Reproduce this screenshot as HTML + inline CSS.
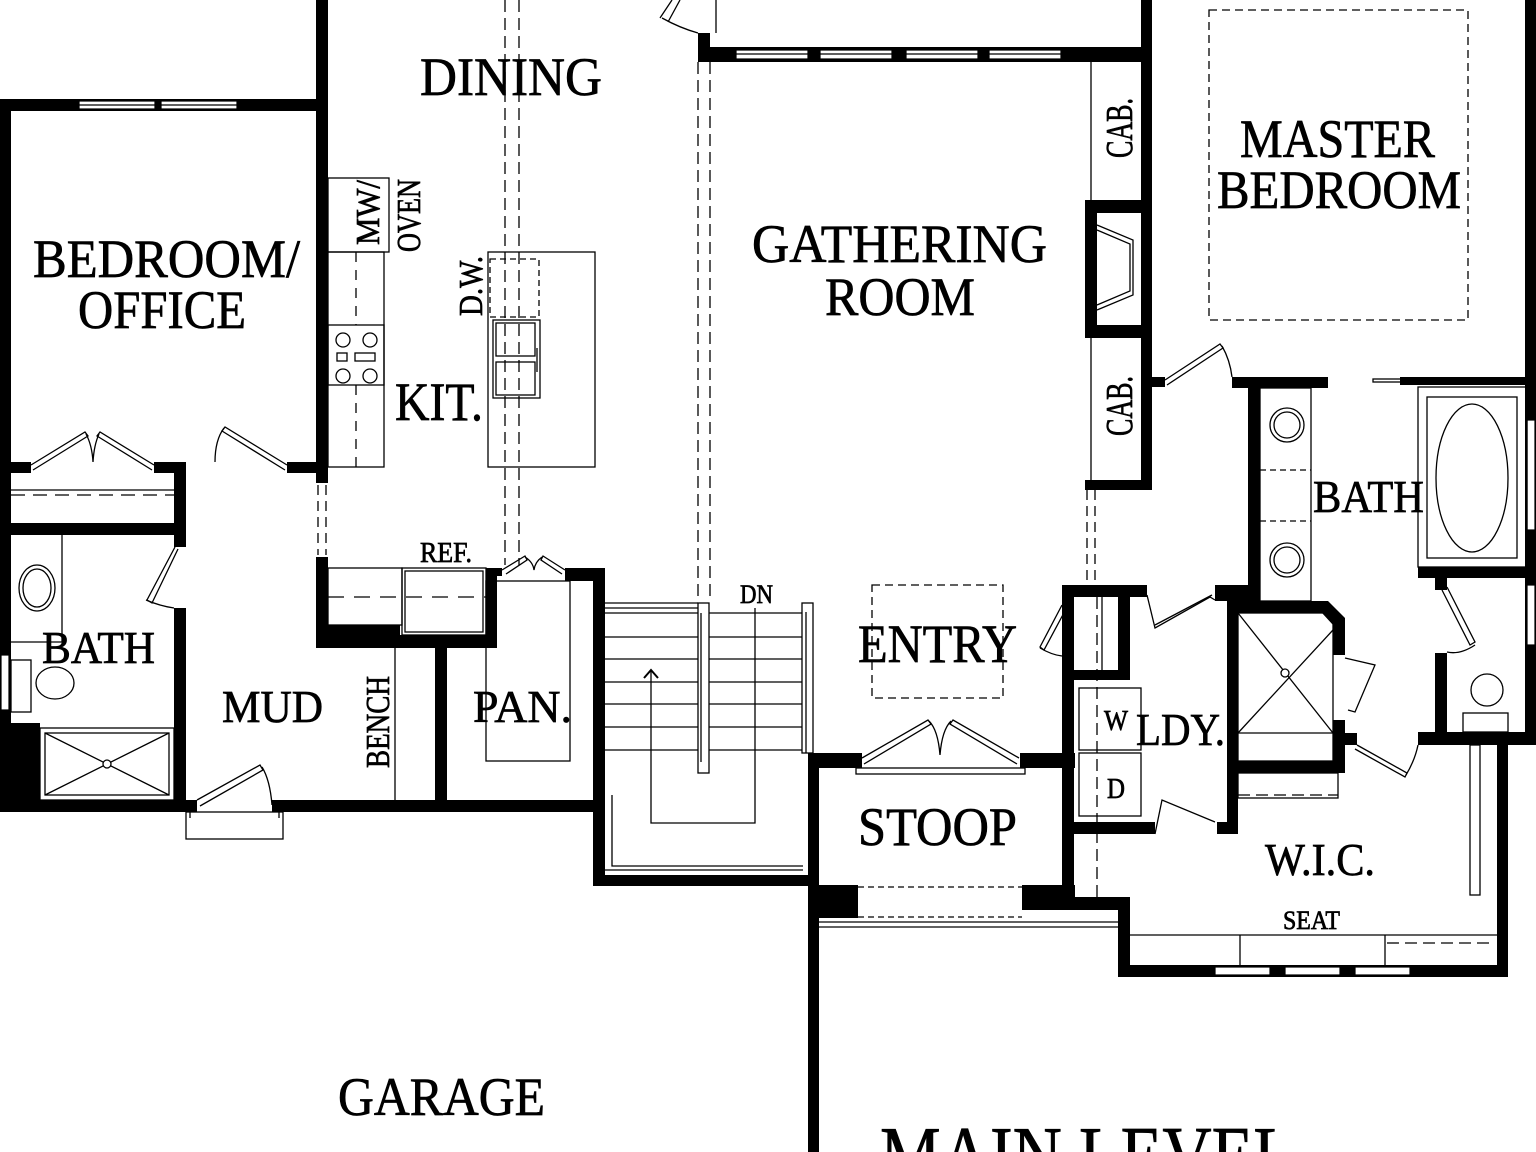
<!DOCTYPE html>
<html><head><meta charset="utf-8"><style>
html,body{margin:0;padding:0;background:#fff;}
svg{display:block;}
text{font-family:"Liberation Serif",serif;fill:#000;stroke:#000;stroke-width:0.7;}
</style></head><body>
<svg width="1536" height="1152" viewBox="0 0 1536 1152" xmlns="http://www.w3.org/2000/svg">
<rect width="1536" height="1152" fill="#fff"/>
<g fill="#000">
<rect x="0" y="99" width="328" height="12"/>
<rect x="0" y="99" width="11" height="700"/>
<rect x="316" y="0" width="12" height="483"/>
<rect x="0" y="462" width="31" height="11"/>
<rect x="154" y="462" width="32" height="11"/>
<rect x="287" y="462" width="41" height="11"/>
<rect x="174" y="462" width="12" height="85"/>
<rect x="0" y="523" width="186" height="12"/>
<rect x="174" y="608" width="12" height="200"/>
<rect x="0" y="723" width="40" height="80"/>
<rect x="0" y="800" width="197" height="12"/>
<rect x="272" y="800" width="333" height="12"/>
<rect x="435" y="648" width="12" height="155"/>
<rect x="316" y="557" width="12" height="91"/>
<rect x="316" y="625" width="84" height="23"/>
<rect x="316" y="635" width="180" height="13"/>
<rect x="486" y="568" width="11" height="80"/>
<rect x="486" y="568" width="16" height="8"/>
<rect x="565" y="568" width="40" height="13"/>
<rect x="593" y="568" width="12" height="317"/>
<rect x="593" y="875" width="226" height="11"/>
<rect x="808" y="753" width="11" height="399"/>
<rect x="808" y="753" width="54" height="15"/>
<rect x="1020" y="753" width="55" height="15"/>
<rect x="1062" y="587" width="12" height="323"/>
<rect x="808" y="885" width="50" height="33"/>
<rect x="1022" y="885" width="53" height="25"/>
<rect x="698" y="47" width="454" height="15"/>
<rect x="698" y="33" width="12" height="29"/>
<rect x="1141" y="0" width="11" height="490"/>
<rect x="1085" y="200" width="56" height="13"/>
<rect x="1085" y="325" width="56" height="13"/>
<rect x="1085" y="200" width="12" height="138"/>
<rect x="1085" y="480" width="67" height="10"/>
<rect x="1085" y="585" width="12" height="12"/>
<rect x="1141" y="377" width="24" height="10"/>
<rect x="1232" y="377" width="96" height="11"/>
<rect x="1400" y="377" width="136" height="8"/>
<rect x="1525" y="0" width="11" height="745"/>
<rect x="1248" y="377" width="12" height="224"/>
<rect x="1215" y="585" width="45" height="16"/>
<rect x="1227" y="585" width="11" height="249"/>
<rect x="1238" y="601" width="90" height="12"/>
<polygon points="1328,601 1345,618 1345,655 1333,655 1333,625 1322,613"/>
<rect x="1333" y="720" width="12" height="53"/>
<rect x="1238" y="761" width="107" height="12"/>
<rect x="1345" y="733" width="12" height="12"/>
<rect x="1418" y="567" width="118" height="11"/>
<rect x="1435" y="567" width="12" height="23"/>
<rect x="1435" y="653" width="12" height="90"/>
<rect x="1418" y="732" width="118" height="13"/>
<rect x="1497" y="732" width="11" height="245"/>
<rect x="1118" y="965" width="390" height="12"/>
<rect x="1118" y="910" width="12" height="67"/>
<rect x="1062" y="585" width="85" height="12"/>
<rect x="1215" y="585" width="33" height="12"/>
<rect x="1118" y="597" width="12" height="83"/>
<rect x="1062" y="670" width="68" height="10"/>
<rect x="1062" y="822" width="93" height="12"/>
<rect x="1217" y="822" width="21" height="12"/>
<rect x="1062" y="897" width="68" height="13"/>
</g>
<g fill="#fff" stroke="#000" stroke-width="1.2">
<rect x="79" y="101" width="76" height="8"/>
<rect x="161" y="101" width="76" height="8"/>
<rect x="736" y="50" width="72" height="9"/>
<rect x="820" y="50" width="72" height="9"/>
<rect x="906" y="50" width="72" height="9"/>
<rect x="989" y="50" width="72" height="9"/>
<rect x="1215" y="967" width="55" height="8"/>
<rect x="1285" y="967" width="55" height="8"/>
<rect x="1355" y="967" width="55" height="8"/>
<rect x="1527" y="420" width="8" height="110"/>
<rect x="1527" y="585" width="8" height="60"/>
<rect x="1" y="655" width="8" height="55"/>
</g>
<g fill="none" stroke="#000" stroke-width="1.3">
<line x1="79" y1="105" x2="237" y2="105"/>
<line x1="736" y1="54" x2="1061" y2="54"/>
<line x1="11" y1="495" x2="174" y2="495" stroke-dasharray="14,8"/>
<line x1="11" y1="490" x2="174" y2="490"/>
<polyline points="31,465 85,432 88,436 33,470"/>
<polyline points="154,465 100,432 97,436 152,470"/>
<path d="M86,434 Q92,445 93,462 Q94,445 99,434"/>
<polyline points="287,465 225,427 222,431 285,470"/>
<path d="M224,428 Q215,440 215,462"/>
<line x1="62" y1="535" x2="62" y2="642"/>
<line x1="11" y1="642" x2="62" y2="642"/>
<ellipse cx="37" cy="588" rx="18" ry="23"/>
<ellipse cx="37" cy="588" rx="14" ry="19"/>
<rect x="11" y="660" width="20" height="52"/>
<ellipse cx="55" cy="683" rx="19" ry="16"/>
<rect x="40" y="728" width="134" height="72"/>
<rect x="45" y="733" width="124" height="62"/>
<line x1="45" y1="733" x2="169" y2="795"/><line x1="169" y1="733" x2="45" y2="795"/>
<circle cx="107" cy="764" r="4" fill="#fff"/>
<polyline points="175,547 147,600 152,603 178,549"/>
<path d="M146,600 Q160,606 174,608"/>
<polyline points="197,800 260,765 263,770 200,806"/>
<path d="M262,767 Q270,780 272,805"/>
<rect x="186" y="812" width="97" height="27"/>
<line x1="190" y1="812" x2="190" y2="818"/><line x1="279" y1="812" x2="279" y2="818"/>
<line x1="395" y1="648" x2="395" y2="800"/>
<rect x="328" y="178" width="61" height="74"/>
<rect x="328" y="252" width="56" height="215"/>
<line x1="356" y1="252" x2="356" y2="325" stroke-dasharray="10,8"/>
<line x1="356" y1="385" x2="356" y2="467" stroke-dasharray="10,8"/>
<rect x="328" y="325" width="56" height="60"/>
<circle cx="343" cy="340" r="7"/><circle cx="370" cy="340" r="7"/>
<circle cx="343" cy="376" r="7"/><circle cx="370" cy="376" r="7"/>
<rect x="337" y="353" width="10" height="8"/><rect x="355" y="353" width="20" height="8"/>
<rect x="488" y="252" width="107" height="215"/>
<rect x="490" y="259" width="49" height="58" stroke-dasharray="6,4"/>
<rect x="493" y="320" width="47" height="78"/>
<rect x="496" y="323" width="39" height="33"/><rect x="496" y="362" width="39" height="33"/>
<line x1="537" y1="348" x2="537" y2="372"/>
<line x1="505" y1="0" x2="505" y2="565" stroke-dasharray="12,6"/>
<line x1="519" y1="0" x2="519" y2="565" stroke-dasharray="12,6"/>
<line x1="698" y1="62" x2="698" y2="600" stroke-dasharray="12,6"/>
<line x1="710" y1="62" x2="710" y2="600" stroke-dasharray="12,6"/>
<line x1="318" y1="485" x2="318" y2="555" stroke-dasharray="10,6"/>
<line x1="326" y1="485" x2="326" y2="555" stroke-dasharray="10,6"/>
<rect x="328" y="568" width="74" height="57"/>
<rect x="402" y="568" width="84" height="67"/>
<rect x="405" y="571" width="78" height="61"/>
<line x1="328" y1="597" x2="486" y2="597" stroke-dasharray="16,10"/>
<rect x="486" y="581" width="84" height="180"/>
<polyline points="502,570 525,556 527,560 506,574"/>
<polyline points="565,570 543,556 541,560 562,574"/>
<path d="M525,557 Q533,562 534,570 Q535,562 542,557"/>
<path d="M660,18 L672,0 M668,22 L680,0 M662,18 Q680,28 698,33"/>
<line x1="716" y1="0" x2="716" y2="33"/>
<line x1="604" y1="603" x2="698" y2="603"/>
<line x1="604" y1="608" x2="698" y2="608"/>
<line x1="604" y1="613" x2="802" y2="613"/>
<line x1="604" y1="637" x2="802" y2="637"/>
<line x1="604" y1="659" x2="802" y2="659"/>
<line x1="604" y1="682" x2="802" y2="682"/>
<line x1="604" y1="704" x2="802" y2="704"/>
<line x1="604" y1="727" x2="802" y2="727"/>
<line x1="604" y1="750" x2="802" y2="750"/>
<rect x="698" y="603" width="11" height="170" fill="#fff"/>
<line x1="701" y1="613" x2="701" y2="762"/>
<rect x="802" y="603" width="11" height="150" fill="#fff"/>
<line x1="806" y1="612" x2="806" y2="753"/>
<polyline points="612,795 612,866 803,866"/>
<line x1="604" y1="870" x2="803" y2="870"/>
<polyline points="651,670 651,823 755,823 755,608"/>
<polyline points="644,678 651,670 658,678" stroke-width="2"/>
<polyline points="862,758 928,720 931,724 864,764"/>
<polyline points="1019,758 953,720 950,724 1017,764"/>
<path d="M929,721 Q938,730 940,755 Q942,730 951,721"/>
<rect x="856" y="768" width="169" height="6"/>
<line x1="858" y1="887" x2="1022" y2="887" stroke-dasharray="6,4"/>
<line x1="858" y1="917" x2="1022" y2="917" stroke-dasharray="6,4"/>
<line x1="819" y1="922" x2="1118" y2="922"/>
<line x1="819" y1="927" x2="1118" y2="927"/>
<rect x="872" y="585" width="131" height="113" stroke-dasharray="8,5"/>
<line x1="1091" y1="62" x2="1091" y2="200"/>
<line x1="1091" y1="338" x2="1091" y2="480"/>
<polyline points="1097,225 1133,240 1133,295 1097,310"/>
<polyline points="1097,230 1130,244 1130,291 1097,305"/>
<line x1="1087" y1="490" x2="1087" y2="585" stroke-dasharray="10,6"/>
<line x1="1095" y1="490" x2="1095" y2="585" stroke-dasharray="10,6"/>
<rect x="1209" y="10" width="259" height="310" stroke-dasharray="8,5"/>
<polyline points="1165,380 1220,344 1223,348 1167,385"/>
<path d="M1222,346 Q1230,360 1232,377"/>
<rect x="1373" y="379" width="73" height="3"/>
<rect x="1260" y="388" width="51" height="213"/>
<line x1="1260" y1="470" x2="1311" y2="470" stroke-dasharray="6,4"/>
<line x1="1260" y1="521" x2="1311" y2="521" stroke-dasharray="6,4"/>
<circle cx="1287" cy="425" r="17"/><circle cx="1287" cy="425" r="13"/>
<circle cx="1287" cy="560" r="17"/><circle cx="1287" cy="560" r="13"/>
<rect x="1238" y="613" width="95" height="148"/>
<line x1="1238" y1="613" x2="1333" y2="733"/><line x1="1333" y1="630" x2="1238" y2="733"/>
<line x1="1238" y1="733" x2="1333" y2="733"/>
<circle cx="1285" cy="673" r="4" fill="#fff"/>
<polyline points="1345,658 1375,665 1355,712 1348,710"/>
<rect x="1238" y="773" width="100" height="25"/>
<line x1="1238" y1="795" x2="1338" y2="795" stroke-dasharray="12,6"/>
<polyline points="1357,745 1407,773 1405,777 1355,749"/>
<path d="M1406,775 Q1415,760 1418,745"/>
<rect x="1418" y="387" width="109" height="180"/>
<rect x="1427" y="397" width="90" height="161"/>
<ellipse cx="1472" cy="478" rx="36" ry="74"/>
<polyline points="1442,590 1470,645 1475,642 1447,587"/>
<path d="M1447,652 Q1460,655 1475,645"/>
<circle cx="1487" cy="690" r="16"/>
<rect x="1463" y="713" width="45" height="19"/>
<rect x="1470" y="745" width="10" height="150"/>
<line x1="1130" y1="935" x2="1497" y2="935"/>
<line x1="1240" y1="935" x2="1240" y2="965"/>
<line x1="1385" y1="935" x2="1385" y2="965"/>
<line x1="1387" y1="943" x2="1495" y2="943" stroke-dasharray="12,6"/>
<rect x="1079" y="688" width="62" height="62"/>
<rect x="1079" y="753" width="62" height="63"/>
<line x1="1097" y1="597" x2="1097" y2="910" stroke-dasharray="12,6"/>
<line x1="1102" y1="597" x2="1102" y2="670"/>
<polyline points="1147,595 1155,628 1210,597 1215,600"/>
<polyline points="1155,625 1212,595"/>
<polyline points="1155,834 1162,800 1215,822"/>
<polyline points="1062,605 1040,647 1044,650 1066,609"/>
<path d="M1040,648 Q1052,655 1062,656"/>
</g>
<g>
<text x="420" y="95" font-size="54" textLength="182" lengthAdjust="spacingAndGlyphs">DINING</text>
<text x="33" y="277" font-size="54" textLength="267" lengthAdjust="spacingAndGlyphs">BEDROOM/</text>
<text x="78" y="328" font-size="54" textLength="168" lengthAdjust="spacingAndGlyphs">OFFICE</text>
<text x="752" y="262" font-size="54" textLength="295" lengthAdjust="spacingAndGlyphs">GATHERING</text>
<text x="825" y="315" font-size="54" textLength="150" lengthAdjust="spacingAndGlyphs">ROOM</text>
<text x="1240" y="157" font-size="54" textLength="195" lengthAdjust="spacingAndGlyphs">MASTER</text>
<text x="1217" y="208" font-size="54" textLength="244" lengthAdjust="spacingAndGlyphs">BEDROOM</text>
<text x="395" y="420" font-size="54" textLength="88" lengthAdjust="spacingAndGlyphs">KIT.</text>
<text x="42" y="663" font-size="46" textLength="113" lengthAdjust="spacingAndGlyphs">BATH</text>
<text x="1313" y="512" font-size="46" textLength="111" lengthAdjust="spacingAndGlyphs">BATH</text>
<text x="222" y="722" font-size="46" textLength="101" lengthAdjust="spacingAndGlyphs">MUD</text>
<text x="473" y="722" font-size="46" textLength="99" lengthAdjust="spacingAndGlyphs">PAN.</text>
<text x="858" y="662" font-size="54" textLength="159" lengthAdjust="spacingAndGlyphs">ENTRY</text>
<text x="858" y="845" font-size="54" textLength="159" lengthAdjust="spacingAndGlyphs">STOOP</text>
<text x="1136" y="745" font-size="46" textLength="89" lengthAdjust="spacingAndGlyphs">LDY.</text>
<text x="1104" y="730" font-size="28" textLength="24" lengthAdjust="spacingAndGlyphs">W</text>
<text x="1107" y="798" font-size="28" textLength="18" lengthAdjust="spacingAndGlyphs">D</text>
<text x="1265" y="875" font-size="46" textLength="110" lengthAdjust="spacingAndGlyphs">W.I.C.</text>
<text x="1283" y="929" font-size="26" textLength="57" lengthAdjust="spacingAndGlyphs">SEAT</text>
<text x="338" y="1115" font-size="54" textLength="207" lengthAdjust="spacingAndGlyphs">GARAGE</text>
<text x="880" y="1182" font-size="80" textLength="415" lengthAdjust="spacingAndGlyphs">MAIN LEVEL</text>
<text x="420" y="562" font-size="28" textLength="52" lengthAdjust="spacingAndGlyphs">REF.</text>
<text x="740" y="603" font-size="26" textLength="33" lengthAdjust="spacingAndGlyphs">DN</text>
<text transform="translate(1132,158) rotate(-90)" font-size="38" textLength="60" lengthAdjust="spacingAndGlyphs">CAB.</text>
<text transform="translate(1132,436) rotate(-90)" font-size="38" textLength="60" lengthAdjust="spacingAndGlyphs">CAB.</text>
<text transform="translate(379,245) rotate(-90)" font-size="34" textLength="65" lengthAdjust="spacingAndGlyphs">MW/</text>
<text transform="translate(420,252) rotate(-90)" font-size="34" textLength="73" lengthAdjust="spacingAndGlyphs">OVEN</text>
<text transform="translate(482,316) rotate(-90)" font-size="34" textLength="60" lengthAdjust="spacingAndGlyphs">D.W.</text>
<text transform="translate(389,768) rotate(-90)" font-size="34" textLength="92" lengthAdjust="spacingAndGlyphs">BENCH</text>
</g>
</svg>
</body></html>
